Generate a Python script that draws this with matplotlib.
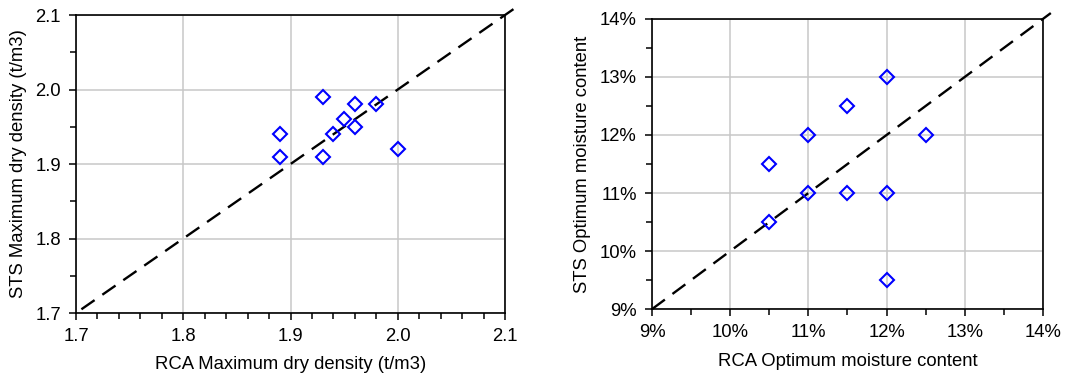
import matplotlib
matplotlib.use("Agg")
import matplotlib.pyplot as plt
from matplotlib.ticker import MultipleLocator, FuncFormatter

plt.rcParams['font.family'] = ['Liberation Sans', 'DejaVu Sans']

# Left: maximum dry density
mdd_rca = [1.89, 1.89, 1.93, 1.93, 1.94, 1.95, 1.96, 1.96, 1.98, 2.00]
mdd_sts = [1.94, 1.91, 1.99, 1.91, 1.94, 1.96, 1.98, 1.95, 1.98, 1.92]
mdd_ticks = [1.7, 1.8, 1.9, 2.0, 2.1]

# Right: optimum moisture content (%)
omc_rca = [10.5, 10.5, 11.0, 11.0, 11.5, 11.5, 12.0, 12.0, 12.0, 12.5]
omc_sts = [11.5, 10.5, 12.0, 11.0, 12.5, 11.0, 13.0, 11.0, 9.5, 12.0]
omc_ticks = [9, 10, 11, 12, 13, 14]

FS = 13.3

fig = plt.figure(figsize=(10.91, 3.85), dpi=100)
ax1 = fig.add_axes([0.0697, 0.187, 0.3932, 0.774])
ax2 = fig.add_axes([0.5976, 0.197, 0.3584, 0.754])

def style(ax, ticks, xminor, yminor):
    ax.set_xlim(ticks[0], ticks[-1])
    ax.set_ylim(ticks[0], ticks[-1])
    ax.set_xticks(ticks)
    ax.set_yticks(ticks)
    ax.xaxis.set_minor_locator(MultipleLocator(xminor))
    ax.yaxis.set_minor_locator(MultipleLocator(yminor))
    ax.grid(True, which='major', color='#c8c8c8', linewidth=1.1)
    ax.set_axisbelow(True)
    for s in ax.spines.values():
        s.set_color('black')
        s.set_linewidth(1.2)
    ax.tick_params(which='major', direction='out', length=5, width=1.1, labelsize=FS, pad=6)
    ax.tick_params(which='minor', direction='out', length=4, width=1.1)

DASH = (0, (6.8, 4.0))

style(ax1, mdd_ticks, 0.02, 0.05)
ax1.xaxis.set_major_formatter(FuncFormatter(lambda v, p: f"{v:.1f}"))
ax1.yaxis.set_major_formatter(FuncFormatter(lambda v, p: f"{v:.1f}"))
ax1.plot([1.705, 2.113], [1.705, 2.113], ls=DASH, color='black', lw=1.7, clip_on=False, zorder=2)
ax1.plot(mdd_rca, mdd_sts, ls='none', marker='D', markersize=7.3, mfc='none', mec='#0000ff', mew=1.5, zorder=3)
ax1.set_xlabel("RCA Maximum dry density (t/m3)", fontsize=FS, labelpad=8)
ax1.set_ylabel("STS Maximum dry density (t/m3)", fontsize=FS, labelpad=6)

style(ax2, omc_ticks, 0.5, 0.5)
ax2.xaxis.set_major_formatter(FuncFormatter(lambda v, p: f"{v:.0f}%"))
ax2.yaxis.set_major_formatter(FuncFormatter(lambda v, p: f"{v:.0f}%"))
ax2.plot([9.0, 14.1], [9.0, 14.1], ls=DASH, color='black', lw=1.7, clip_on=False, zorder=2)
ax2.plot(omc_rca, omc_sts, ls='none', marker='D', markersize=7.3, mfc='none', mec='#0000ff', mew=1.5, zorder=3)
ax2.set_xlabel("RCA Optimum moisture content", fontsize=FS, labelpad=8)
ax2.set_ylabel("STS Optimum moisture content", fontsize=FS, labelpad=6)

fig.savefig("out.png", dpi=100)
